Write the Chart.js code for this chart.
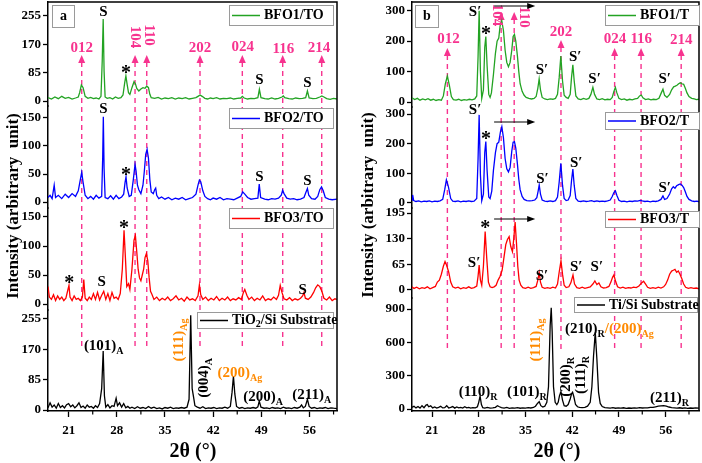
<!DOCTYPE html>
<html><head><meta charset="utf-8">
<script src="https://cdn.jsdelivr.net/npm/chart.js@4.4.1/dist/chart.umd.min.js"></script>
<style>
html,body{margin:0;padding:0;background:#fff;width:702px;height:463px;overflow:hidden}
#wrap{position:relative;width:702px;height:463px}
canvas{position:absolute;top:0}
#cA{left:0;width:350px;height:463px}
#cB{left:350px;width:352px;height:463px}
</style></head><body>
<div id="wrap"><canvas id="cA" width="350" height="463"></canvas><canvas id="cB" width="352" height="463"></canvas></div>
<script>
// ---------------- DATA ----------------
const ticks2Theta = [21, 28, 35, 42, 49, 56];
const minorTicks2Theta = [24.5, 31.5, 38.5, 45.5, 52.5, 59.5];

const leftNames = ['BFO1/TO', 'BFO2/TO', 'BFO3/TO', 'TiO2/Si Substrate'];
const leftTicks = [[0, 85, 170, 255], [0, 50, 100, 150], [0, 50, 100, 150], [0, 85, 170, 255]];
const rightNames = ['BFO1/T', 'BFO2/T', 'BFO3/T', 'Ti/Si Substrate'];
const rightTicks = [[0, 100, 200, 300], [0, 100, 200, 300], [0, 65, 130, 195], [0, 300, 600, 900]];

const hklLabels = ['012', '104', '110', '202', '024', '116', '214'];
const hklLeft = [22.9, 30.65, 32.35, 40.09, 46.24, 52.11, 57.78];
const hklRight = [23.3, 31.36, 33.31, 40.32, 48.36, 52.32, 58.33];

// [2theta, intensity]
const bfo1TO = [[18.0,10],[18.5,6],[19.0,12],[19.5,7],[20.0,14],[20.5,8],[21.0,11],[21.5,6],[22.0,9],[22.4,12],[22.6,25],[22.85,48],[23.1,40],[23.4,14],[23.8,8],[24.2,11],[24.6,7],[25.0,9],[25.4,6],[25.7,14],[25.88,120],[26.02,246],[26.15,90],[26.3,12],[26.6,8],[27.0,10],[27.4,6],[27.8,12],[28.2,8],[28.6,10],[28.9,18],[29.15,55],[29.32,75],[29.5,50],[29.7,25],[29.9,20],[30.2,40],[30.5,58],[30.7,52],[30.9,38],[31.2,30],[31.5,36],[31.8,40],[32.1,38],[32.35,45],[32.6,40],[32.8,20],[33.0,10],[33.5,8],[34.0,11],[34.5,6],[35.0,9],[35.5,7],[36.0,10],[36.5,6],[37.0,9],[37.5,7],[38.0,10],[38.5,6],[39.0,8],[39.5,10],[39.8,14],[40.1,18],[40.4,14],[40.8,8],[41.2,6],[41.6,9],[42.0,7],[42.5,10],[43.0,6],[43.5,8],[44.0,7],[44.5,9],[45.0,6],[45.5,8],[46.0,9],[46.25,14],[46.5,9],[47.0,6],[47.5,8],[48.0,7],[48.5,10],[48.72,35],[48.95,10],[49.5,7],[50.0,6],[50.5,9],[51.0,6],[51.5,8],[52.0,12],[52.2,15],[52.4,10],[53.0,7],[53.5,6],[54.0,9],[54.5,7],[55.0,8],[55.45,10],[55.7,30],[55.95,9],[56.5,7],[57.0,8],[57.5,12],[57.8,15],[58.1,12],[58.5,7],[59.0,5],[59.5,8],[60.0,6]];
const bfo2TO = [[18.0,8],[18.3,12],[18.6,6],[18.9,30],[19.1,8],[19.5,12],[20.0,6],[20.5,14],[21.0,8],[21.5,15],[22.0,10],[22.4,20],[22.7,40],[22.9,53],[23.1,35],[23.4,12],[23.8,6],[24.2,10],[24.6,5],[25.0,12],[25.4,7],[25.8,10],[25.95,80],[26.04,152],[26.15,60],[26.3,8],[26.7,6],[27.1,11],[27.5,5],[27.9,12],[28.3,6],[28.7,9],[29.0,14],[29.2,35],[29.34,45],[29.5,25],[29.8,10],[30.1,12],[30.4,40],[30.65,67],[30.8,55],[31.0,30],[31.2,22],[31.5,15],[31.8,30],[32.0,55],[32.2,85],[32.4,94],[32.6,78],[32.8,40],[33.0,18],[33.3,15],[33.5,22],[33.65,25],[33.8,12],[34.1,6],[34.5,9],[35.0,5],[35.5,8],[36.0,4],[36.5,7],[37.0,5],[37.5,8],[38.0,4],[38.5,6],[39.0,8],[39.5,14],[39.8,30],[40.0,39],[40.2,36],[40.5,20],[40.8,10],[41.2,6],[41.6,4],[42.0,7],[42.5,5],[43.0,8],[43.5,4],[44.0,6],[44.5,5],[45.0,4],[45.5,7],[46.0,10],[46.3,18],[46.6,14],[47.0,8],[47.5,5],[48.0,6],[48.5,7],[48.7,32],[48.9,8],[49.5,5],[50.0,4],[50.5,6],[51.0,5],[51.5,7],[51.9,12],[52.1,21],[52.3,15],[52.7,7],[53.2,5],[53.7,6],[54.2,4],[54.7,5],[55.2,8],[55.5,18],[55.7,24],[55.9,12],[56.3,6],[56.8,5],[57.2,10],[57.5,22],[57.75,27],[58.0,20],[58.3,8],[58.8,5],[59.3,4],[60.0,5]];
const bfo3TO = [[18.0,30],[18.2,12],[18.5,8],[18.8,16],[19.1,6],[19.4,14],[19.7,8],[20.0,12],[20.3,6],[20.6,10],[20.9,25],[21.05,32],[21.2,12],[21.5,6],[21.8,14],[22.1,8],[22.4,10],[22.7,6],[23.0,12],[23.2,42],[23.4,10],[23.7,6],[24.0,12],[24.3,8],[24.6,18],[24.9,8],[25.2,20],[25.5,7],[25.8,15],[26.1,22],[26.4,8],[26.7,18],[27.0,6],[27.3,20],[27.6,10],[27.9,12],[28.2,8],[28.5,18],[28.8,60],[29.05,127],[29.25,80],[29.45,30],[29.7,35],[29.9,25],[30.2,60],[30.5,110],[30.7,118],[30.9,90],[31.1,60],[31.3,45],[31.5,40],[31.7,50],[31.9,60],[32.1,80],[32.3,87],[32.5,75],[32.7,45],[32.9,22],[33.1,17],[33.4,8],[33.8,12],[34.2,6],[34.6,10],[35.0,7],[35.4,12],[35.8,6],[36.2,9],[36.6,14],[37.0,7],[37.4,10],[37.8,5],[38.2,12],[38.6,7],[39.0,9],[39.4,6],[39.8,14],[40.0,33],[40.2,16],[40.5,8],[40.9,12],[41.3,6],[41.7,10],[42.1,7],[42.5,13],[42.9,6],[43.3,10],[43.7,7],[44.1,12],[44.5,6],[44.9,9],[45.3,7],[45.7,11],[46.1,8],[46.4,20],[46.6,25],[46.9,15],[47.2,8],[47.6,12],[48.0,6],[48.4,10],[48.8,7],[49.2,14],[49.6,6],[50.0,9],[50.4,7],[50.8,12],[51.2,8],[51.5,15],[51.75,32],[52.0,20],[52.3,9],[52.7,7],[53.1,11],[53.5,6],[53.9,9],[54.3,7],[54.7,10],[55.0,14],[55.2,20],[55.4,10],[55.8,8],[56.2,12],[56.6,20],[56.9,28],[57.2,33],[57.5,30],[57.8,22],[58.1,10],[58.5,7],[58.9,12],[59.3,6],[59.7,9],[60.0,8]];
const tio2Si = [[18.0,6],[18.3,20],[18.6,8],[18.9,14],[19.2,5],[19.5,18],[19.8,7],[20.1,12],[20.4,6],[20.7,15],[21.0,18],[21.3,9],[21.6,14],[21.9,6],[22.2,12],[22.5,20],[22.8,7],[23.1,11],[23.4,5],[23.7,14],[24.0,8],[24.3,10],[24.6,5],[24.9,12],[25.2,7],[25.5,18],[25.8,60],[26.02,165],[26.2,40],[26.4,8],[26.7,15],[27.0,6],[27.3,12],[27.6,10],[27.9,33],[28.1,12],[28.4,20],[28.7,8],[29.0,18],[29.3,6],[29.6,10],[29.9,5],[30.2,8],[30.6,4],[31.0,9],[31.4,5],[31.8,7],[32.2,4],[32.6,10],[33.0,5],[33.4,8],[33.8,4],[34.2,6],[34.6,3],[35.0,7],[35.4,5],[35.8,8],[36.2,4],[36.6,6],[37.0,5],[37.4,7],[37.8,5],[38.2,8],[38.5,30],[38.74,265],[38.95,60],[39.15,37],[39.35,12],[39.7,8],[40.1,5],[40.5,9],[40.9,4],[41.3,6],[41.7,5],[42.1,7],[42.5,4],[42.9,6],[43.3,5],[43.7,8],[44.1,5],[44.5,10],[44.75,50],[44.95,95],[45.15,45],[45.4,10],[45.8,5],[46.2,7],[46.6,4],[47.0,6],[47.4,5],[47.8,7],[48.2,5],[48.5,9],[48.7,25],[48.95,8],[49.4,5],[49.8,6],[50.2,4],[50.6,7],[51.0,5],[51.4,6],[51.8,4],[52.2,8],[52.6,5],[53.0,6],[53.4,4],[53.8,7],[54.2,5],[54.6,8],[54.85,14],[55.1,6],[55.4,10],[55.7,30],[55.95,10],[56.3,5],[56.7,7],[57.1,4],[57.5,6],[57.9,5],[58.3,7],[58.7,4],[59.1,6],[59.5,5],[60.0,4]];

const bfo1T = [[18.0,14],[18.4,8],[18.8,12],[19.2,6],[19.6,10],[20.0,7],[20.4,11],[20.8,6],[21.2,9],[21.6,5],[22.0,8],[22.4,6],[22.7,20],[23.0,60],[23.3,85],[23.6,55],[23.9,18],[24.2,8],[24.6,6],[25.0,9],[25.4,5],[25.8,8],[26.2,6],[26.6,9],[27.0,7],[27.4,10],[27.7,20],[27.9,150],[28.06,300],[28.25,100],[28.45,12],[28.7,40],[28.9,180],[29.06,215],[29.25,120],[29.5,25],[29.7,15],[29.9,30],[30.2,90],[30.5,160],[30.75,200],[31.0,210],[31.2,250],[31.45,267],[31.7,235],[31.95,170],[32.2,130],[32.45,116],[32.7,130],[32.95,170],[33.15,215],[33.35,222],[33.55,200],[33.8,150],[34.0,100],[34.2,60],[34.5,35],[34.8,22],[35.1,15],[35.5,12],[35.9,10],[36.3,12],[36.6,18],[36.85,45],[37.05,76],[37.25,40],[37.5,15],[37.9,10],[38.3,8],[38.7,10],[39.1,9],[39.5,12],[39.8,25],[40.05,80],[40.3,151],[40.55,70],[40.8,22],[41.1,15],[41.4,12],[41.7,25],[41.9,80],[42.1,122],[42.3,70],[42.55,20],[42.9,10],[43.3,8],[43.7,12],[44.1,9],[44.5,12],[44.8,25],[45.1,48],[45.35,25],[45.7,10],[46.1,8],[46.5,11],[46.9,7],[47.3,9],[47.7,8],[48.0,15],[48.25,35],[48.47,48],[48.7,30],[49.0,12],[49.4,8],[49.8,10],[50.2,6],[50.6,9],[51.0,7],[51.4,10],[51.8,12],[52.1,20],[52.35,23],[52.6,14],[53.0,8],[53.4,10],[53.8,7],[54.2,9],[54.6,8],[55.0,12],[55.35,30],[55.6,42],[55.85,22],[56.2,15],[56.6,25],[56.9,40],[57.2,50],[57.45,52],[57.7,55],[57.95,60],[58.2,63],[58.45,60],[58.7,58],[58.95,45],[59.2,30],[59.5,18],[59.9,12],[60.3,10],[60.6,8],[61.0,9]];
const bfo2T = [[18.0,10],[18.1,27],[18.25,8],[18.6,5],[19.0,7],[19.4,4],[19.8,6],[20.2,5],[20.6,7],[21.0,4],[21.4,6],[21.8,5],[22.2,7],[22.6,12],[22.9,45],[23.15,78],[23.45,55],[23.8,15],[24.1,6],[24.5,5],[24.9,7],[25.3,4],[25.7,6],[26.1,5],[26.5,7],[26.9,5],[27.3,6],[27.7,15],[27.9,150],[28.06,297],[28.25,95],[28.45,8],[28.7,30],[28.9,170],[29.06,207],[29.25,110],[29.5,20],[29.7,15],[29.95,40],[30.2,110],[30.5,170],[30.75,200],[31.0,205],[31.25,240],[31.46,257],[31.7,220],[31.95,150],[32.2,115],[32.45,105],[32.7,120],[32.95,175],[33.15,205],[33.35,207],[33.55,185],[33.8,130],[34.0,80],[34.2,45],[34.5,22],[34.8,12],[35.2,8],[35.6,7],[36.0,8],[36.4,10],[36.7,18],[36.9,40],[37.06,61],[37.25,30],[37.5,10],[37.9,6],[38.3,5],[38.7,7],[39.1,5],[39.5,8],[39.8,20],[40.05,70],[40.3,134],[40.55,60],[40.8,15],[41.1,8],[41.4,10],[41.7,25],[41.9,75],[42.1,114],[42.3,60],[42.55,15],[42.9,6],[43.3,5],[43.7,7],[44.1,5],[44.5,6],[44.9,8],[45.3,5],[45.7,7],[46.1,5],[46.5,6],[46.9,5],[47.3,7],[47.7,10],[48.0,22],[48.25,35],[48.47,41],[48.7,25],[49.0,9],[49.4,5],[49.8,6],[50.2,4],[50.6,6],[51.0,5],[51.4,7],[51.8,6],[52.2,9],[52.5,7],[52.9,5],[53.3,6],[53.7,4],[54.1,6],[54.5,5],[54.9,7],[55.3,12],[55.6,24],[55.85,12],[56.2,15],[56.6,30],[56.9,48],[57.15,55],[57.4,50],[57.65,58],[57.95,62],[58.2,64],[58.45,60],[58.7,52],[58.95,38],[59.2,22],[59.5,12],[59.9,7],[60.3,5],[60.7,6],[61.0,4]];
const bfo3T = [[18.0,8],[18.3,4],[18.7,7],[19.1,3],[19.5,6],[19.9,4],[20.3,8],[20.7,3],[21.1,6],[21.5,9],[21.8,20],[22.1,25],[22.4,40],[22.7,60],[22.95,72],[23.2,62],[23.5,45],[23.8,20],[24.1,8],[24.5,5],[24.9,7],[25.3,3],[25.7,6],[26.1,4],[26.5,8],[26.9,4],[27.3,6],[27.7,10],[27.9,35],[28.06,63],[28.25,25],[28.45,12],[28.7,60],[28.96,148],[29.2,80],[29.45,20],[29.7,8],[30.0,6],[30.3,8],[30.6,12],[30.9,25],[31.2,35],[31.5,50],[31.8,85],[32.05,115],[32.3,128],[32.55,135],[32.8,110],[33.05,97],[33.25,130],[33.45,172],[33.65,120],[33.85,60],[34.05,25],[34.3,12],[34.6,6],[35.0,4],[35.4,7],[35.8,4],[36.2,6],[36.6,9],[36.85,25],[37.06,44],[37.25,20],[37.5,7],[37.9,4],[38.3,6],[38.7,4],[39.1,7],[39.5,5],[39.8,15],[40.05,45],[40.32,74],[40.55,40],[40.8,12],[41.1,6],[41.5,8],[41.8,18],[42.12,38],[42.35,15],[42.7,6],[43.1,4],[43.5,7],[43.9,4],[44.3,6],[44.7,8],[45.1,15],[45.4,23],[45.7,14],[46.0,18],[46.3,8],[46.7,5],[47.1,6],[47.5,9],[47.8,20],[48.05,32],[48.25,38],[48.5,22],[48.8,8],[49.2,5],[49.6,7],[50.0,4],[50.4,6],[50.8,5],[51.2,7],[51.6,6],[52.0,10],[52.4,18],[52.7,22],[53.0,15],[53.3,7],[53.7,4],[54.1,6],[54.5,4],[54.9,7],[55.3,5],[55.7,8],[56.0,14],[56.3,25],[56.6,40],[56.9,48],[57.15,50],[57.4,52],[57.65,45],[57.9,48],[58.15,40],[58.4,30],[58.7,15],[59.0,7],[59.4,4],[59.8,6],[60.2,4],[60.6,5],[61.0,3]];
const tiSi = [[18.0,15],[18.3,25],[18.6,10],[18.9,22],[19.2,8],[19.5,30],[19.8,12],[20.1,35],[20.3,40],[20.5,20],[20.8,28],[21.1,10],[21.4,18],[21.7,8],[22.0,15],[22.3,25],[22.6,10],[22.9,12],[23.2,30],[23.5,9],[23.8,15],[24.1,22],[24.4,8],[24.7,18],[25.0,10],[25.3,14],[25.6,8],[25.9,20],[26.2,10],[26.5,15],[26.8,8],[27.1,12],[27.5,10],[27.8,20],[28.0,60],[28.2,117],[28.4,40],[28.6,12],[28.9,8],[29.3,14],[29.7,8],[30.1,10],[30.5,15],[30.8,30],[31.1,20],[31.4,12],[31.8,8],[32.2,14],[32.6,6],[33.0,10],[33.4,8],[33.8,12],[34.2,7],[34.6,10],[35.0,8],[35.4,12],[35.8,9],[36.2,14],[36.5,25],[36.8,50],[37.06,66],[37.3,30],[37.6,18],[37.9,25],[38.2,60],[38.45,200],[38.7,750],[38.86,910],[39.0,700],[39.2,200],[39.45,60],[39.7,40],[39.9,60],[40.1,120],[40.32,156],[40.55,80],[40.8,30],[41.1,25],[41.4,40],[41.7,90],[41.9,135],[42.06,150],[42.25,110],[42.5,40],[42.8,20],[43.1,15],[43.5,12],[43.9,15],[44.3,25],[44.7,60],[44.95,200],[45.2,480],[45.46,690],[45.7,450],[45.95,150],[46.2,50],[46.5,22],[46.9,12],[47.3,10],[47.7,8],[48.1,12],[48.5,7],[48.9,10],[49.3,8],[49.7,11],[50.1,6],[50.5,9],[50.9,7],[51.3,10],[51.7,8],[52.1,12],[52.5,9],[52.9,11],[53.3,10],[53.7,14],[54.1,15],[54.5,20],[54.9,25],[55.3,28],[55.7,30],[56.1,25],[56.5,18],[56.9,12],[57.3,10],[57.7,8],[58.1,11],[58.5,7],[58.9,10],[59.3,6],[59.7,9],[60.1,7],[60.5,10],[61.0,8]];

// ---------------- STYLE / LAYOUT ----------------
const FONT = '"Liberation Serif","Times New Roman",serif';
const PINK = '#f7338f';
const ORANGE = '#ff8a00';
const COLORS = ['#23a323', '#0000ff', '#ff0000', '#000000'];

// text annotations: [2theta, y pixel, text]
const leftNotes = [[26.04,12,'S'],[29.34,70,'*'],[48.71,80,'S'],[55.69,83,'S'],
  [26.04,109,'S'],[29.34,172,'*'],[48.71,177,'S'],[55.69,181,'S'],
  [29.05,225,'*'],[21.1,280,'*'],[25.8,282,'S'],[55.0,290,'S']];
const rightNotes = [[27.46,12,'S\u2032'],[29.1,31,'*'],[37.47,70,'S\u2032'],[42.46,57,'S\u2032'],[45.36,79,'S\u2032'],[55.87,79,'S\u2032'],
  [27.46,110,'S\u2032'],[29.1,136,'*'],[37.56,179,'S\u2032'],[42.6,163,'S\u2032'],[55.87,188,'S\u2032'],
  [28.96,225,'*'],[27.3,263,'S\u2032'],[37.47,276,'S\u2032'],[42.6,267,'S\u2032'],[45.7,267,'S\u2032']];
// rich labels: x, y, rotation, segments [text, orange?, sub?]
const leftRich = [
  [26.1,345,0,[['(101)',0,0],['A',0,1]]],
  [36.95,340,-90,[['(111)',1,0],['Ag',1,1]]],
  [40.57,378,-90,[['(004)',0,0],['A',0,1]]],
  [45.9,372,0,[['(200)',1,0],['Ag',1,1]]],
  [49.25,396,0,[['(200)',0,0],['A',0,1]]],
  [56.33,394,0,[['(211)',0,0],['A',0,1]]]];
const rightRich = [
  [27.9,391,0,[['(110)',0,0],['R',0,1]]],
  [35.2,391,0,[['(101)',0,0],['R',0,1]]],
  [36.46,340,-90,[['(111)',1,0],['Ag',1,1]]],
  [40.9,377,-90,[['(200)',0,0],['R',0,1]]],
  [43.2,375,-90,[['(111)',0,0],['R',0,1]]],
  [47.57,328,0,[['(210)',0,0],['R',0,1],['/(200)',1,0],['Ag',1,1]]],
  [56.57,397,0,[['(211)',0,0],['R',0,1]]]];

const panels = [
  { canvas:'cA', off:0, xmin:18, xmax:60, yWidth:48, padRight:13, letter:'a', letterBox:[52,5,22,22],
    weights:[104,102,102,101], ranges:[[-15,297],[-10.7,171.4],[-10.3,165.5],[-2.8,280]],
    ticks:leftTicks, names:leftNames, series:[bfo1TO,bfo2TO,bfo3TO,tio2Si],
    hkl:hklLeft, hklTip:[55,55,55,55,55,55,55], hklLab:[[22.9,48],[30.65,37],[32.72,35],[40.09,48],[46.3,47],[52.2,49],[57.4,48]],
    legends:[[229,5,104,20],[229,108,104,20],[229,208,104,20],[197,312,136,16]],
    notes:leftNotes, rich:leftRich, ytitle:[14,206], xtitle:[193,452], arrows:[] },
  { canvas:'cB', off:350, xmin:18, xmax:61, yWidth:62, padRight:3, letter:'b', letterBox:[415,5,23,22],
    weights:[105,101,90,113], ranges:[[-16.4,328.6],[-16.9,323.6],[-20.3,207.7],[-18,999]],
    ticks:rightTicks, names:rightNames, series:[bfo1T,bfo2T,bfo3T,tiSi],
    hkl:hklRight, hklTip:[48,12,12,40,48,48,48], hklLab:[[23.45,39],[30.7,15],[34.7,17],[40.32,32],[48.4,39],[52.35,39],[58.33,40]],
    legends:[[605,5,94,20],[605,112,94,17],[605,211,94,16],[574,297,123,15]],
    notes:rightNotes, rich:rightRich, ytitle:[369,205], xtitle:[557,452], arrows:[[30.3,36.46,6],[30.3,36.46,122],[30.3,36.46,219]] }
];

function drawRich(ctx, segs, x, y, rot, size) {
  ctx.save();
  ctx.translate(x, y);
  if (rot) ctx.rotate(rot * Math.PI / 180);
  const sub = Math.round(size * 0.68);
  const ws = segs.map(s => { ctx.font = 'bold ' + (s[2] ? sub : size) + 'px ' + FONT; return ctx.measureText(s[0]).width; });
  let cx = -ws.reduce((a, b) => a + b, 0) / 2;
  ctx.textAlign = 'left'; ctx.textBaseline = 'alphabetic';
  const base = size * 0.34;
  segs.forEach((s, i) => {
    ctx.font = 'bold ' + (s[2] ? sub : size) + 'px ' + FONT;
    ctx.fillStyle = s[1] ? ORANGE : '#000';
    ctx.fillText(s[0], cx, s[2] ? base + size * 0.25 : base);
    cx += ws[i];
  });
  ctx.restore();
}

function zeroPad(s) { s.paddingTop = 0; s.paddingBottom = 0; s.paddingLeft = 0; s.paddingRight = 0; }

function makeChart(P) {
  const scales = {
    x: { type:'linear', position:'bottom', min:P.xmin, max:P.xmax,
      afterBuildTicks: s => { s.ticks = ticks2Theta.map(v => ({ value: v })); },
      afterFit: s => { s.height = 52; zeroPad(s); },
      grid: { drawOnChartArea:false, drawTicks:true, tickLength:6, color:'#000', tickWidth:1.3 },
      border: { display:true, color:'#000', width:1.5 },
      ticks: { font:{ family:FONT, size:13, weight:'bold' }, color:'#000', padding:6, maxRotation:0, autoSkip:false } }
  };
  P.series.forEach((d, i) => {
    scales['y' + i] = { type:'linear', position:'left', stack:'st', stackWeight:P.weights[i], weight:10 - i,
      min:P.ranges[i][0], max:P.ranges[i][1],
      afterBuildTicks: s => { s.ticks = P.ticks[i].map(v => ({ value: v })); },
      afterFit: s => { s.width = P.yWidth; zeroPad(s); },
      grid: { drawOnChartArea:false, drawTicks:true, tickLength:5, color:'#000', tickWidth:1.3 },
      border: { display:true, color:'#000', width:1.5 },
      ticks: { font:{ family:FONT, size:13, weight:'bold' }, color:'#000', padding:2, autoSkip:false } };
  });
  const datasets = P.series.map((d, i) => ({
    data: d.map(p => ({ x: p[0], y: p[1] })), yAxisID:'y' + i, xAxisID:'x',
    borderColor: COLORS[i], borderWidth: 1.3, pointRadius: 0, tension: 0, fill: false
  }));

  const overlay = {
    id: 'overlay',
    beforeDatasetsDraw(chart) {
      const ctx = chart.ctx, xs = chart.scales.x;
      ctx.save(); ctx.translate(-P.off, 0);
      P.hkl.forEach((v, i) => {
        const px = xs.getPixelForValue(v) + P.off, tip = P.hklTip[i];
        ctx.strokeStyle = PINK; ctx.lineWidth = 1.4; ctx.setLineDash([5, 4]);
        ctx.beginPath(); ctx.moveTo(px, tip + 7); ctx.lineTo(px, 350); ctx.stroke();
        ctx.setLineDash([]);
        ctx.fillStyle = PINK;
        ctx.beginPath(); ctx.moveTo(px, tip); ctx.lineTo(px - 3.5, tip + 8); ctx.lineTo(px + 3.5, tip + 8); ctx.closePath(); ctx.fill();
      });
      ctx.restore();
    },
    afterDraw(chart) {
      const ctx = chart.ctx, xs = chart.scales.x, a = chart.chartArea;
      ctx.save();
      ctx.strokeStyle = '#000'; ctx.lineWidth = 1.5;
      ctx.beginPath(); ctx.moveTo(a.left, a.top); ctx.lineTo(a.right, a.top); ctx.lineTo(a.right, a.bottom); ctx.stroke();
      ctx.lineWidth = 1.2;
      minorTicks2Theta.forEach(v => { if (v < P.xmin || v > P.xmax) return; const px = xs.getPixelForValue(v); ctx.beginPath(); ctx.moveTo(px, a.bottom); ctx.lineTo(px, a.bottom + 3.5); ctx.stroke(); });
      ctx.translate(-P.off, 0);
      const X = v => xs.getPixelForValue(v) + P.off;
      ctx.fillStyle = PINK; ctx.font = 'bold 15px ' + FONT; ctx.textAlign = 'center'; ctx.textBaseline = 'middle';
      hklLabels.forEach((t, i) => {
        const [lx, ly] = P.hklLab[i];
        if (t === '104' || t === '110') {
          ctx.save(); ctx.translate(X(lx), ly); ctx.rotate(Math.PI / 2); ctx.fillText(t, 0, 0); ctx.restore();
        } else ctx.fillText(t, X(lx), ly);
      });
      ctx.fillStyle = '#000';
      P.notes.forEach(n => {
        if (n[2] === '*') { ctx.font = 'bold 20px ' + FONT; ctx.fillText('*', X(n[0]), n[1] + 4); }
        else { ctx.font = 'bold 15px ' + FONT; ctx.fillText(n[2], X(n[0]), n[1]); }
      });
      P.rich.forEach(r => drawRich(ctx, r[3], X(r[0]), r[1], r[2], 15));
      ctx.strokeStyle = '#000'; ctx.fillStyle = '#000'; ctx.lineWidth = 1.2;
      P.arrows.forEach(ar => {
        const x1 = X(ar[0]), x2 = X(ar[1]), y = ar[2];
        ctx.beginPath(); ctx.moveTo(x1, y); ctx.lineTo(x2 - 6, y); ctx.stroke();
        ctx.beginPath(); ctx.moveTo(x2, y); ctx.lineTo(x2 - 8, y - 3); ctx.lineTo(x2 - 8, y + 3); ctx.closePath(); ctx.fill();
      });
      P.legends.forEach((L, i) => {
        const [lx, ly, lw, lh] = L;
        ctx.fillStyle = '#fff'; ctx.fillRect(lx, ly, lw, lh);
        ctx.strokeStyle = '#9a9a9a'; ctx.lineWidth = 1; ctx.strokeRect(lx + 0.5, ly + 0.5, lw, lh);
        const my = ly + lh / 2 + 0.5;
        ctx.strokeStyle = COLORS[i]; ctx.lineWidth = 1.5;
        ctx.beginPath(); ctx.moveTo(lx + 3, my); ctx.lineTo(lx + 31, my); ctx.stroke();
        ctx.fillStyle = '#000'; ctx.textAlign = 'left'; ctx.textBaseline = 'middle';
        const name = P.names[i];
        if (name.indexOf('TiO2') === 0) {
          let cx = lx + 35;
          ctx.font = 'bold 14px ' + FONT; ctx.fillText('TiO', cx, my); cx += ctx.measureText('TiO').width;
          ctx.font = 'bold 10px ' + FONT; ctx.fillText('2', cx, my + 4); cx += ctx.measureText('2').width;
          ctx.font = 'bold 14px ' + FONT; ctx.fillText(name.slice(4), cx, my);
        } else { ctx.font = 'bold 14px ' + FONT; ctx.fillText(name, lx + 35, my); }
      });
      const B = P.letterBox;
      ctx.fillStyle = '#fff'; ctx.fillRect(B[0], B[1], B[2], B[3]);
      ctx.strokeStyle = '#9a9a9a'; ctx.lineWidth = 1; ctx.strokeRect(B[0] + 0.5, B[1] + 0.5, B[2], B[3]);
      ctx.fillStyle = '#000'; ctx.font = 'bold 14px ' + FONT; ctx.textAlign = 'center'; ctx.textBaseline = 'middle';
      ctx.fillText(P.letter, B[0] + B[2] / 2 + 0.5, B[1] + B[3] / 2);
      ctx.font = 'bold 17px ' + FONT;
      ctx.save(); ctx.translate(P.ytitle[0], P.ytitle[1]); ctx.rotate(-Math.PI / 2);
      ctx.fillText('Intensity (arbitrary  unit)', 0, 0); ctx.restore();
      ctx.font = 'bold 20px ' + FONT;
      ctx.fillText('2\u03b8 (\u00b0)', P.xtitle[0], P.xtitle[1]);
      ctx.restore();
    }
  };

  return new Chart(document.getElementById(P.canvas), {
    type: 'line',
    data: { datasets },
    options: {
      responsive: false, animation: false, devicePixelRatio: 1,
      layout: { padding: { left: 0, right: P.padRight, top: 2, bottom: 0 } },
      plugins: { legend: { display: false }, tooltip: { enabled: false } },
      scales
    },
    plugins: [overlay]
  });
}
panels.forEach(makeChart);
</script>
</body></html>
